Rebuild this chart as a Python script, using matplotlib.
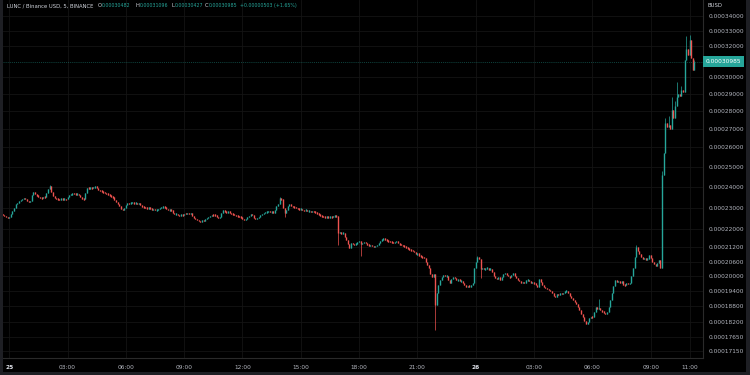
import numpy as np
import matplotlib
matplotlib.use("Agg")
import matplotlib.pyplot as plt
from matplotlib.patches import Rectangle
import matplotlib.ticker as mticker

# ---------------- data (prices in units of 1e-8 BUSD) ----------------
SCALE = 1e-8
first_open = 22680
closes = [
    22650, 22620, 22560, 22520, 22560, 22700, 22850, 22980, 23150, 23220,
    23300, 23360, 23400, 23450, 23420, 23300, 23250, 23300, 23600, 23730,
    23650, 23560, 23520, 23450, 23430, 23520, 23500, 23700, 23900, 24020,
    23750, 23550, 23450, 23420, 23400, 23380, 23410, 23390, 23400, 23380,
    23480, 23600, 23620, 23680, 23650, 23620, 23660, 23600, 23500, 23420,
    23400, 23700, 23950, 23900, 23960, 23920, 23980, 24000, 23950, 23850,
    23800, 23760, 23720, 23700, 23650, 23620, 23560, 23520, 23480, 23350,
    23250, 23150, 23050, 22950, 22880, 23000, 23100, 23200, 23180, 23230,
    23250, 23200, 23220, 23180, 23200, 23100, 23050, 23000, 22980, 22960,
    22990, 22950, 22900, 22930, 22880, 22900, 22920, 22980, 23020, 23050,
    23000, 22950, 22880, 22900, 22870, 22750, 22680, 22700, 22650, 22620,
    22680, 22640, 22720, 22700, 22740, 22710, 22730, 22600, 22500, 22460,
    22420, 22360, 22330, 22400, 22380, 22460, 22500, 22560, 22620, 22660,
    22650, 22640, 22560, 22520, 22540, 22750, 22890, 22800, 22780, 22820,
    22750, 22700, 22680, 22650, 22620, 22600, 22580, 22560, 22480, 22430,
    22460, 22550, 22620, 22700, 22640, 22520, 22480, 22500, 22580, 22650,
    22700, 22760, 22790, 22800, 22830, 22780, 22820, 22760, 22900, 23050,
    23170, 23450, 23380, 23000, 22760, 22900, 23050, 23170, 23080, 23030,
    23000, 22980, 22950, 22900, 22950, 22880, 22850, 22900, 22820, 22850,
    22800, 22830, 22810, 22790, 22720, 22680, 22620, 22600, 22560, 22540,
    22560, 22540, 22580, 22550, 22600, 22620, 22600, 21840, 21880, 21800,
    21850, 21650, 21530, 21350, 21180, 21400, 21350, 21300, 21380, 21420,
    21480, 21350, 21400, 21430, 21380, 21320, 21280, 21300, 21250, 21220,
    21260, 21300, 21400, 21480, 21560, 21600, 21550, 21500, 21480, 21450,
    21420, 21400, 21440, 21460, 21380, 21340, 21300, 21280, 21240, 21220,
    21150, 21120, 21080, 21040, 21000, 20900, 20950, 20850, 20800, 20780,
    20750, 20600, 20450, 20330, 20100, 19950, 20080, 18860, 19320, 19650,
    19840, 19950, 20050, 19980, 20020, 19850, 19720, 19880, 19970, 19900,
    19820, 19860, 19780, 19800, 19700, 19620, 19560, 19600, 19580, 19620,
    19700, 20350, 20600, 20790, 20700, 20300, 20330, 20280, 20300, 20350,
    20260, 20300, 20150, 20000, 19920, 19880, 19950, 19820, 19950, 20080,
    20130, 20050, 19980, 19950, 20050, 20130, 20000, 19900, 19840, 19780,
    19720, 19760, 19700, 19820, 19850, 19780, 19720, 19750, 19700, 19620,
    19560, 19880, 19750, 19620, 19560, 19520, 19480, 19420, 19400, 19300,
    19200, 19170, 19280, 19250, 19300, 19280, 19320, 19380, 19400, 19300,
    19200, 19120, 19050, 18960, 18880, 18780, 18650, 18500, 18380, 18250,
    18140, 18220, 18350, 18400, 18380, 18600, 18780, 18700, 18740, 18650,
    18600, 18550, 18520, 18580, 18780, 19050, 19320, 19600, 19840, 19750,
    19800, 19700, 19780, 19650, 19620, 19700, 19680, 19720, 20000, 20330,
    20800, 21220, 21050, 20900, 20790, 20700, 20750, 20680, 20720, 20880,
    20750, 20600, 20480, 20400, 20550, 20650, 20330, 24580, 25710, 27330,
    27100, 27200, 27000, 28070, 27610, 28300, 28820, 29000, 28900, 29230,
    29100, 31080, 31800, 31400, 32360, 31200, 30482, 30985,
]
# notable wicks (candle index -> price)
extra_high = {29: 24080, 171: 23520, 293: 20850, 368: 19100, 391: 21300,
              407: 24800, 409: 27600, 411: 27700, 413: 28820, 415: 28600,
              416: 29720, 419: 29500, 422: 32640, 424: 32700, 427: 31096}
extra_low = {174: 22550, 207: 21300, 221: 20840, 267: 17920, 295: 19920,
             427: 30427}

time_tick_idx = [4, 40, 76, 112, 148, 184, 220, 256, 292, 328, 364, 400, 424]
time_tick_labels = ["25", "03:00", "06:00", "09:00", "12:00", "15:00", "18:00",
                    "21:00", "26", "03:00", "06:00", "09:00", "11:00"]
day_labels = ["25", "26"]
price_ticks = [34000, 33000, 32000, 30000, 29000, 28000, 27000, 26000,
               25000, 24000, 23000, 22000, 21200, 20600, 20000, 19400, 18800,
               18200, 17650, 17150]
last_o, last_h, last_l, last_c = 30482, 31096, 30427, 30985

# ---------------- build OHLC ----------------
c = np.array(closes, dtype=float)
o = np.concatenate([[first_open], c[:-1]])
h = np.maximum(o, c)
l = np.minimum(o, c)
for k, v in extra_high.items():
    h[k] = max(h[k], v)
for k, v in extra_low.items():
    l[k] = min(l[k], v)
o, h, l, c = o * SCALE, h * SCALE, l * SCALE, c * SCALE
idx = np.arange(len(c))

UP = "#26a69a"
DOWN = "#ef5350"
TXT = "#b2b5be"
GRID = "#141414"

W, H = 750, 375
fig = plt.figure(figsize=(7.5, 3.75), dpi=100, facecolor="#1e1f24")
bg = Rectangle((3 / W, 3 / H), 743 / W, 372 / H, transform=fig.transFigure,
               facecolor="#000000", edgecolor="none", zorder=-10)
fig.patches.append(bg)

ax_left, ax_right, ax_top, ax_bot = 3, 703, 0, 358
ax = fig.add_axes([ax_left / W, (H - ax_bot) / H, (ax_right - ax_left) / W,
                   (ax_bot - ax_top) / H])
ax.set_facecolor("#000000")
ax.set_zorder(1)

x0, dx = 2.7, 1.62
ax.set_xlim((ax_left - x0) / dx, (ax_right - x0) / dx)
ax.set_yscale("log")
PX_PER_LN = 490.0
p_top = 34000 * np.exp(16 / PX_PER_LN) * SCALE
p_bot = 34000 * np.exp(-(358 - 16) / PX_PER_LN) * SCALE
ax.set_ylim(p_bot, p_top)

# grid
for t in time_tick_idx:
    ax.axvline(t, color=GRID, lw=0.6, zorder=0)
for p in price_ticks:
    ax.axhline(p * SCALE, color=GRID, lw=0.6, zorder=0)

# candle bodies: rendered at least ~1.5 px tall (like the chart platform does)
lo = np.minimum(o, c)
hi = np.maximum(o, c)
mid = np.sqrt(lo * hi)
min_ratio = np.exp(1.5 / PX_PER_LN)
small = hi / lo < min_ratio
lo_draw = np.where(small, mid / np.sqrt(min_ratio), lo)
hi_draw = np.where(small, mid * np.sqrt(min_ratio), hi)
h_draw = np.maximum(h, hi_draw)
l_draw = np.minimum(l, lo_draw)

colors = np.where(c >= o, UP, DOWN)
ax.vlines(idx, l_draw, h_draw, colors=colors, lw=0.5, zorder=2)
ax.vlines(idx, lo_draw, hi_draw, colors=colors, lw=1.0, zorder=3, capstyle="butt")

# last price line and label
ax.axhline(last_c * SCALE, color=UP, lw=0.5, ls=(0, (1.5, 1.5)), alpha=0.55, zorder=1)

# axes styling
for s in ["top", "left"]:
    ax.spines[s].set_visible(False)
ax.spines["right"].set_color("#2a2a2a")
ax.spines["bottom"].set_color("#2a2a2a")
ax.spines["right"].set_linewidth(0.8)
ax.spines["bottom"].set_linewidth(0.8)

LS = 4.2
ax.yaxis.tick_right()
ax.yaxis.set_minor_locator(mticker.NullLocator())
ax.yaxis.set_minor_formatter(mticker.NullFormatter())
ax.set_yticks([p * SCALE for p in price_ticks])
ax.set_yticklabels([f"{p * SCALE:.8f}" for p in price_ticks])
ax.tick_params(axis="y", which="both", length=0, pad=4.0, labelsize=LS, labelcolor=TXT)

ax.set_xticks(time_tick_idx)
ax.set_xticklabels(time_tick_labels)
ax.tick_params(axis="x", length=0, pad=4.8, labelsize=LS, labelcolor=TXT)
for lab in ax.get_xticklabels():
    if lab.get_text() in day_labels:
        lab.set_fontweight("bold")
        lab.set_color("#e0e3eb")

ax.text(1.004, last_c * SCALE, f"{last_c * SCALE:.8f}", transform=ax.get_yaxis_transform(),
        ha="left", va="center", fontsize=LS, color="white",
        bbox=dict(boxstyle="square,pad=0.45", fc=UP, ec="none"), clip_on=False, zorder=5)

# header legend
fs = 3.8
fsv = 3.45
y_head = 1 - 5.5 / H
fig.text(7 / W, y_head, "LUNC / Binance USD, 5, BINANCE", fontsize=fs, color="#d1d4dc",
         va="center", ha="left", zorder=10)
parts = [(98, "O", f"{last_o * SCALE:.8f}"), (136, "H", f"{last_h * SCALE:.8f}"),
         (171, "L", f"{last_l * SCALE:.8f}"), (205, "C", f"{last_c * SCALE:.8f}")]
for xp, key, val in parts:
    fig.text(xp / W, y_head, key, fontsize=fs, color="#d1d4dc", va="center", ha="left", zorder=10)
    fig.text((xp + 3.6) / W, y_head, val, fontsize=fsv, color=UP, va="center", ha="left", zorder=10)
chg = last_c - last_o
fig.text(240 / W, y_head, f"+{chg * SCALE:.8f} (+{chg / last_o * 100:.2f}%)", fontsize=fsv,
         color=UP, va="center", ha="left", zorder=10)
fig.text(708 / W, y_head, "BUSD", fontsize=fs, color="#d1d4dc", va="center", ha="left", zorder=10)

fig.savefig("out.png", dpi=100, facecolor=fig.get_facecolor())
